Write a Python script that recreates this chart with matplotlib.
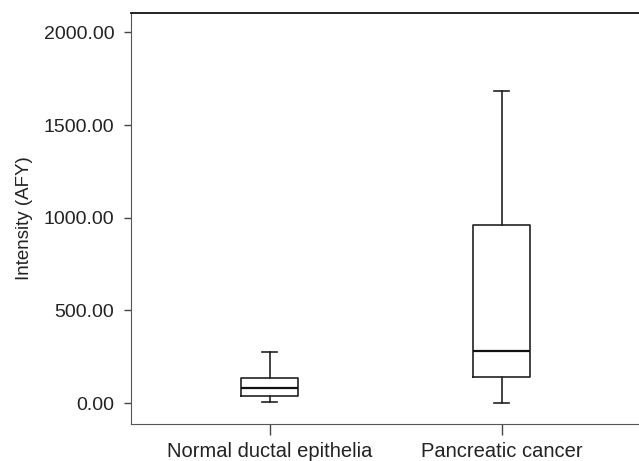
import matplotlib.pyplot as plt
from matplotlib.ticker import FormatStrFormatter

plt.rcParams['font.family'] = ['Liberation Sans', 'DejaVu Sans']

# data (box plot summary values)
groups = ['Normal ductal epithelia', 'Pancreatic cancer']
whislo = [9, 0]
q1 = [41, 140]
med = [84, 282]
q3 = [138, 961]
whishi = [275, 1685]
yticks = [0, 500, 1000, 1500, 2000]

stats = []
for g, lo, a, m, b, hi in zip(groups, whislo, q1, med, q3, whishi):
    stats.append(dict(label=g, whislo=lo, q1=a, med=m, q3=b, whishi=hi, fliers=[]))

fig = plt.figure(figsize=(6.39, 4.61), dpi=100)
ax = fig.add_axes([130.7 / 639, 37 / 461, 1 - 130.7 / 639, (424 - 13) / 461])

line = dict(color='#222222', linewidth=1.2)
ax.bxp(stats, positions=[1, 2], widths=0.246, capwidths=0.065,
       showfliers=False, boxprops=line, whiskerprops=line,
       capprops=line, medianprops=dict(color='#111111', linewidth=1.6))

ax.set_xlim(0.399, 0.399 + (639 - 130.7) / 231.7)
ax.set_ylim(-112, 2104)
ax.set_yticks(yticks)
ax.yaxis.set_major_formatter(FormatStrFormatter('%.2f'))
ax.set_ylabel('Intensity (AFY)', fontsize=13.5, color='#222222', labelpad=8)

ax.spines['right'].set_visible(False)
ax.spines['top'].set_color('#111111')
ax.spines['top'].set_linewidth(1.3)
ax.spines['left'].set_color('#555555')
ax.spines['bottom'].set_color('#555555')

ax.tick_params(axis='y', length=4.7, width=1, color='#444444', pad=7,
               labelsize=14, labelcolor='#222222')
ax.tick_params(axis='x', length=8, width=1, color='#444444', pad=5,
               labelsize=14.5, labelcolor='#222222')

fig.savefig('out.png', dpi=100, facecolor='white')
